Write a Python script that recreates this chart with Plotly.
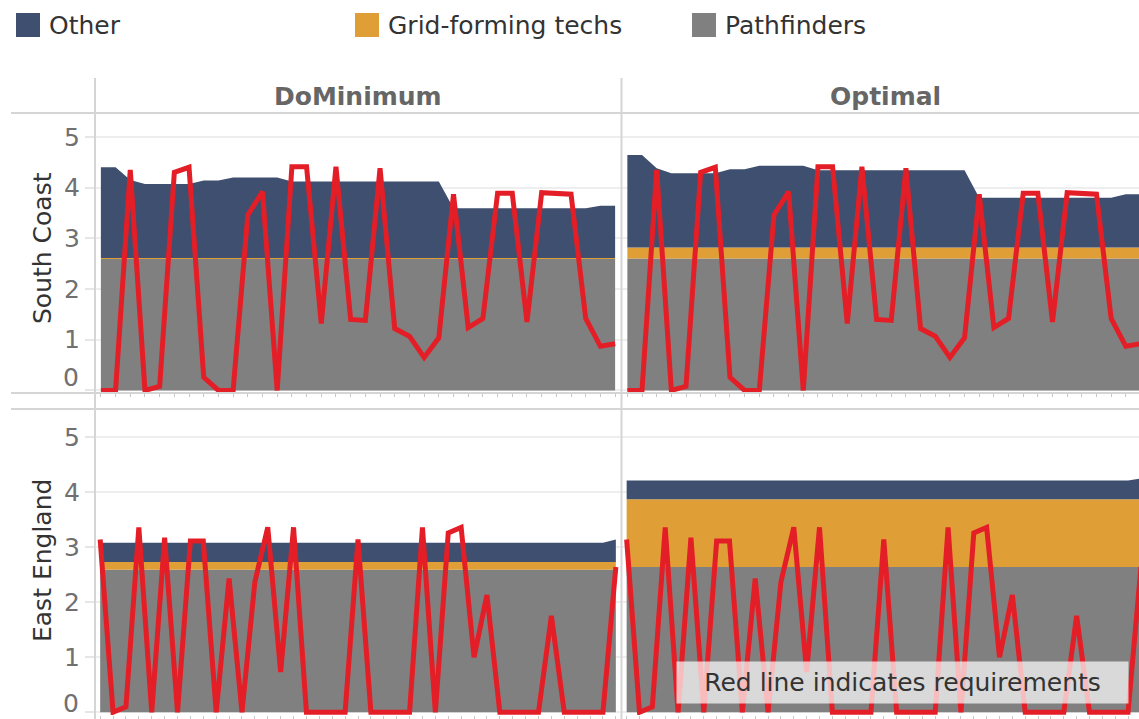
import plotly.graph_objects as go

W, H = 1139, 719
FONT = "DejaVu Sans"
FS = 25

# ---------------- data ----------------
regions = ["South Coast", "East England"]
scenarios = ["DoMinimum", "Optimal"]
series_names = ["Pathfinders", "Grid-forming techs", "Other"]
series_colors = {"Pathfinders": "#808080", "Grid-forming techs": "#E09E36", "Other": "#3E4F6F"}
legend_order = ["Other", "Grid-forming techs", "Pathfinders"]
y_tick_values = [0, 1, 2, 3, 4, 5]

sc_periods = list(range(36))
ee_periods = list(range(41))

sc_requirement = [0, 0, 4.35, 0, 0.08, 4.30, 4.40, 0.26, 0, 0, 3.46, 3.92, 0, 4.41, 4.41, 1.32, 4.41, 1.40,
                  1.38, 4.38, 1.22, 1.07, 0.65, 1.04, 3.87, 1.24, 1.42, 3.89, 3.89, 1.35, 3.90, 3.89, 3.87,
                  1.42, 0.87, 0.92]
ee_requirement = [3.14, 0, 0.10, 3.36, 0, 3.17, 0, 3.11, 3.11, 0, 2.43, 0, 2.37, 3.36, 0.73, 3.36, 0, 0, 0,
                  0, 3.14, 0, 0, 0, 0, 3.36, 0, 3.26, 3.36, 1.00, 2.13, 0, 0, 0, 0, 1.75, 0, 0, 0, 0, 2.64]

sc_dm_pathfinders = [2.59] * 36
sc_dm_gridforming = [0.02] * 36
sc_dm_other = ([1.79, 1.79, 1.54, 1.46, 1.46, 1.46, 1.46, 1.53, 1.53, 1.59, 1.59, 1.59, 1.59]
               + [1.51] * 11 + [0.98] * 10 + [1.03, 1.03])

sc_opt_pathfinders = [2.60] * 36
sc_opt_gridforming = [0.22] * 36
sc_opt_other = ([1.82, 1.82, 1.56, 1.46, 1.46, 1.46, 1.46, 1.54, 1.54, 1.61, 1.61, 1.61, 1.61]
                + [1.52] * 11 + [0.98] * 10 + [1.05, 1.05])

ee_dm_pathfinders = [2.59] * 41
ee_dm_gridforming = [0.14] * 41
ee_dm_other = [0.35] * 40 + [0.41]

ee_opt_pathfinders = [2.64] * 41
ee_opt_gridforming = [1.23] * 41
ee_opt_other = [0.34] * 40 + [0.38]

panels = [
    ("South Coast", "DoMinimum", sc_periods, sc_requirement,
     {"Pathfinders": sc_dm_pathfinders, "Grid-forming techs": sc_dm_gridforming, "Other": sc_dm_other}, "x", "y"),
    ("South Coast", "Optimal", sc_periods, sc_requirement,
     {"Pathfinders": sc_opt_pathfinders, "Grid-forming techs": sc_opt_gridforming, "Other": sc_opt_other}, "x2", "y2"),
    ("East England", "DoMinimum", ee_periods, ee_requirement,
     {"Pathfinders": ee_dm_pathfinders, "Grid-forming techs": ee_dm_gridforming, "Other": ee_dm_other}, "x3", "y3"),
    ("East England", "Optimal", ee_periods, ee_requirement,
     {"Pathfinders": ee_opt_pathfinders, "Grid-forming techs": ee_opt_gridforming, "Other": ee_opt_other}, "x4", "y4"),
]

# ---------------- helpers ----------------
def px(x):
    return x / W


def py(y):
    return 1 - y / H


fig = go.Figure()
for i, (region, scen, xs, req, vals, xa, ya) in enumerate(panels):
    for name in series_names:
        fig.add_trace(go.Scatter(
            x=xs, y=vals[name], xaxis=xa, yaxis=ya, mode="lines",
            stackgroup=f"g{i}", line=dict(width=0, color=series_colors[name]),
            fillcolor=series_colors[name], name=name, showlegend=False,
        ))
    fig.add_trace(go.Scatter(
        x=xs, y=req, xaxis=xa, yaxis=ya, mode="lines",
        line=dict(color="#E41E26", width=5), name="Requirement", showlegend=False,
    ))

L0, L1 = 95, 621
R0, R1 = 621.5, 1139
TOP0, TOP1 = 113, 393
BOT0, BOT1 = 409, 715

xcommon = dict(showgrid=False, zeroline=False, showticklabels=False, ticks="outside", ticklen=3,
               tickcolor="#c8c8c8", tick0=0, dtick=1, showline=False, fixedrange=True)
ycommon = dict(showgrid=True, gridcolor="#eeeeee", gridwidth=1.5, zeroline=False,
               tickmode="array", tickvals=y_tick_values, showline=False, fixedrange=True)
yleft = dict(ticks="outside", ticklen=9, tickcolor="#e6e6e6", tickwidth=1.5,
             ticktext=[""] + [str(v) for v in y_tick_values[1:]],
             tickfont=dict(family=FONT, size=FS, color="#707070"))
yright = dict(showticklabels=False, ticks="")

fig.update_layout(
    xaxis=dict(domain=[px(L0), px(L1)], range=[-0.4, 35.4], anchor="y", **xcommon),
    xaxis2=dict(domain=[px(R0), px(R1)], range=[-0.4, 34.9], anchor="y2", **xcommon),
    xaxis3=dict(domain=[px(L0), px(L1)], range=[-0.4, 40.4], anchor="y3", **xcommon),
    xaxis4=dict(domain=[px(R0), px(R1)], range=[-0.4, 39.85], anchor="y4", **xcommon),
    yaxis=dict(domain=[py(TOP1), py(TOP0)], range=[-0.05, 5.47], anchor="x", **ycommon, **yleft),
    yaxis2=dict(domain=[py(TOP1), py(TOP0)], range=[-0.05, 5.47], anchor="x2", **ycommon, **yright),
    yaxis3=dict(domain=[py(BOT1), py(BOT0)], range=[-0.05, 5.51], anchor="x3", **ycommon, **yleft),
    yaxis4=dict(domain=[py(BOT1), py(BOT0)], range=[-0.05, 5.51], anchor="x4", **ycommon, **yright),
)

line_col = "#d5d5d5"
shapes = []
for yy in (113, 393, 409):
    shapes.append(dict(type="line", xref="paper", yref="paper", x0=px(11), x1=1, y0=py(yy), y1=py(yy),
                       line=dict(color=line_col, width=2), layer="above"))
for xx in (95, 621.5):
    shapes.append(dict(type="line", xref="paper", yref="paper", x0=px(xx), x1=px(xx), y0=py(78), y1=0,
                       line=dict(color=line_col, width=2), layer="above"))

annotations = []
# legend (manual swatches + labels)
legend_pos = {"Other": 16, "Grid-forming techs": 355, "Pathfinders": 692}
for name in legend_order:
    x0 = legend_pos[name]
    shapes.append(dict(type="rect", xref="paper", yref="paper", x0=px(x0), x1=px(x0 + 24),
                       y0=py(37), y1=py(13), fillcolor=series_colors[name], line=dict(width=0)))
    annotations.append(dict(text=name, xref="paper", yref="paper", x=px(x0 + 31), y=py(25),
                            xanchor="left", yanchor="middle", showarrow=False,
                            font=dict(family=FONT, size=FS, color="#333333")))

# the "0" tick labels sit a little above their gridline in the reference
for yzero in (377, 703):
    annotations.append(dict(text=str(y_tick_values[0]), xref="paper", yref="paper", x=px(81), y=py(yzero),
                            xanchor="right", yanchor="middle", showarrow=False, height=28,
                            font=dict(family=FONT, size=FS, color="#707070")))

# column strips
for scen, cx in zip(scenarios, [(L0 + L1) / 2, 885]):
    annotations.append(dict(text=f"<b>{scen}</b>", xref="paper", yref="paper", x=px(cx), y=py(96),
                            xanchor="center", yanchor="middle", showarrow=False,
                            font=dict(family=FONT, size=FS, color="#666666")))
# row titles
for reg, cy in zip(regions, [248, 561]):
    annotations.append(dict(text=reg, xref="paper", yref="paper", x=px(42), y=py(cy), textangle=-90,
                            xanchor="center", yanchor="middle", showarrow=False,
                            font=dict(family=FONT, size=FS, color="#333333")))
# note box
annotations.append(dict(text="Red line indicates requirements", xref="paper", yref="paper",
                        x=px(902.5), y=py(682.5), xanchor="center", yanchor="middle", showarrow=False,
                        width=447, height=37, borderpad=2, bgcolor="rgba(255,255,255,0.7)",
                        font=dict(family=FONT, size=FS, color="#333333")))

fig.update_layout(
    autosize=True,
    margin=dict(l=0, r=0, t=0, b=0, pad=0),
    paper_bgcolor="white", plot_bgcolor="white",
    showlegend=False, shapes=shapes, annotations=annotations,
    font=dict(family=FONT),
)

post = ("document.documentElement.style.margin='0';document.body.style.margin='0';"
        "document.documentElement.style.overflow='hidden';document.body.style.overflow='hidden';"
        "var gd=document.getElementById('{plot_id}');gd.style.width='100vw';gd.style.height='100vh';"
        "Plotly.Plots.resize(gd);")

fig.write_html("out.html", default_width="100vw", default_height="100vh",
               config={"displayModeBar": False, "responsive": True}, post_script=post)
